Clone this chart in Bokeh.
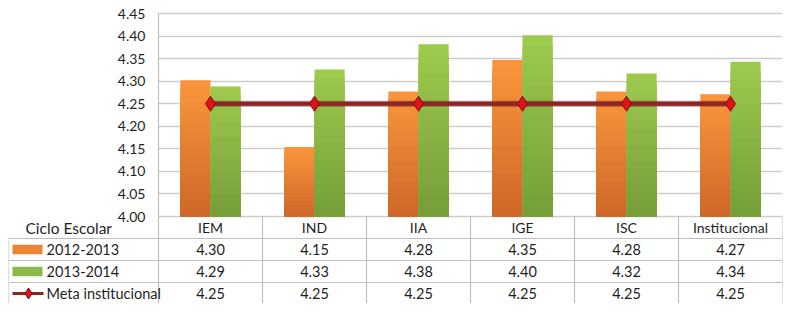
import numpy as np
from bokeh.plotting import figure
from bokeh.models import Range1d, LinearAxis, FixedTicker, NumeralTickFormatter, Grid
from bokeh.core.properties import value
from bokeh.embed import file_html
from bokeh.resources import INLINE

# ---------------- data ----------------
categories = ["IEM", "IND", "IIA", "IGE", "ISC", "Institucional"]
series_2012 = [4.302, 4.154, 4.277, 4.347, 4.277, 4.271]
series_2013 = [4.288, 4.326, 4.382, 4.402, 4.317, 4.343]
meta = [4.25, 4.25, 4.25, 4.25, 4.25, 4.25]
y_ticks = [4.00, 4.05, 4.10, 4.15, 4.20, 4.25, 4.30, 4.35, 4.40, 4.45]
series_names = ["2012-2013", "2013-2014", "Meta institucional"]
header_label = "Ciclo Escolar"

# ---------------- layout constants ----------------
W, H = 784, 303
BORDER_TOP = 3
FRAME_H = H - BORDER_TOP
PAD_PX = 10          # px between frame top and top tick
CHART_H = 203        # px for the value axis span
ROW_H = 22.0
BORDER_LEFT, BORDER_RIGHT = 8, 2
LEFT_PX = 150.0
COL_PX = 104.0
X0 = -LEFT_PX / COL_PX
FONT = "Lato"
TXT = "#1f1f1f"
LINE = "#BFBFBF"

y_lo, y_hi = y_ticks[0], y_ticks[-1]
upp = (y_hi - y_lo) / CHART_H  # units per px
y_end = y_hi + PAD_PX * upp
y_start = y_lo - (FRAME_H - CHART_H - PAD_PX) * upp
tbl_top = -(CHART_H + PAD_PX) / ROW_H
tbl_bottom = (FRAME_H - CHART_H - PAD_PX) / ROW_H

ncat = len(categories)
p = figure(width=W, height=H, output_backend="svg", toolbar_location=None,
           x_range=Range1d(X0, ncat), y_range=Range1d(y_start, y_end),
           x_axis_location=None, y_axis_location=None,
           min_border_left=BORDER_LEFT, min_border_right=BORDER_RIGHT,
           min_border_top=BORDER_TOP, min_border_bottom=0)
p.center = []
p.extra_y_ranges = {"tbl": Range1d(start=tbl_bottom, end=tbl_top)}
p.outline_line_color = None
p.background_fill_color = "white"
p.border_fill_color = "white"

# grid
grid = Grid(dimension=1, ticker=FixedTicker(ticks=y_ticks), grid_line_color="#CDCDCD",
            grid_line_width=1.5, bounds=(y_lo, y_hi))
need_mask = True
if "cross_bounds" in Grid.properties():
    grid.cross_bounds = (0, ncat)
    need_mask = False
p.add_layout(grid)
if need_mask:
    p.quad(left=[X0], right=[0], bottom=[y_lo - 0.01], top=[y_end], fill_color="white", line_color=None)

# y axis pinned at x=0
yaxis = LinearAxis(fixed_location=0, ticker=FixedTicker(ticks=y_ticks),
                   formatter=NumeralTickFormatter(format="0.00"), bounds=(y_lo, y_hi),
                   axis_line_color=LINE, axis_line_width=1.2,
                   major_tick_out=0, major_tick_in=0, minor_tick_out=0, minor_tick_in=0,
                   major_tick_line_color=None, minor_tick_line_color=None,
                   major_label_standoff=13, major_label_text_font=FONT,
                   major_label_text_font_size="14px", major_label_text_color=TXT)
p.add_layout(yaxis, "left")

# bars with vertical gradient
idx = np.arange(ncat) + 0.5
BW = 0.29
N = 18
def grad_bars(xs, vals, c_top, c_bot):
    c_top = np.array(c_top, float); c_bot = np.array(c_bot, float)
    vals = np.array(vals, float)
    for k in range(N):
        f = 1 - k / N
        t = k / (N - 1)
        c = c_top * (1 - t) + c_bot * t
        col = "#%02x%02x%02x" % tuple(int(round(v)) for v in c)
        p.vbar(x=xs, width=BW, bottom=y_lo, top=y_lo + (vals - y_lo) * f,
               fill_color=col, line_color=None)

grad_bars(idx - BW / 2, series_2012, (249, 148, 60), (208, 104, 40))
grad_bars(idx + BW / 2, series_2013, (157, 201, 77), (118, 158, 57))

# meta line
p.line(idx, meta, line_color="#5e1414", line_width=6, line_alpha=0.45)
p.line(idx, meta, line_color="#8f2424", line_width=4)
p.scatter(idx, meta, marker="diamond", size=15, fill_color="#e3101a", line_color="#7a0f0f", line_width=1)

# ---------------- table ----------------
p.segment(x0=[X0] * 3, x1=[ncat] * 3, y0=[1, 2, 3], y1=[1, 2, 3], y_range_name="tbl",
          line_color=LINE, line_width=1.2)
p.segment(x0=[X0], x1=[X0], y0=[1], y1=[5], y_range_name="tbl", line_color=LINE, line_width=1.2)
vx = list(range(ncat + 1))
p.segment(x0=vx, x1=vx, y0=[0] * len(vx), y1=[5] * len(vx), y_range_name="tbl",
          line_color=LINE, line_width=1.2)

p.text(x=idx, y=[0.5] * ncat, text=categories, y_range_name="tbl", text_align="center",
       text_baseline="middle", text_font=value(FONT), text_font_size="14px", text_color=TXT)
p.text(x=[X0 + 17 / COL_PX], y=[0.5], text=[header_label], y_range_name="tbl", text_align="left",
       text_baseline="middle", text_font=value(FONT), text_font_size="15.5px", text_color=TXT)

rows = [series_2012, series_2013, meta]
for r, vals in enumerate(rows):
    p.text(x=idx, y=[r + 1.5] * ncat, text=["%.2f" % v for v in vals], y_range_name="tbl",
           text_align="center", text_baseline="middle", text_font=value(FONT),
           text_font_size="14.5px", text_color=TXT)

p.text(x=[X0 + 38 / COL_PX] * 3, y=[1.5, 2.5, 3.5], text=series_names, y_range_name="tbl",
       text_align="left", text_baseline="middle", text_font=value(FONT), text_font_size="14.5px",
       text_color=TXT)
sw_l, sw_r = X0 + 4 / COL_PX, X0 + 34 / COL_PX
p.quad(left=[sw_l], right=[sw_r], top=[1.5 - 0.22], bottom=[1.5 + 0.22], y_range_name="tbl",
       fill_color="#ee8433", line_color=None)
p.quad(left=[sw_l], right=[sw_r], top=[2.5 - 0.22], bottom=[2.5 + 0.22], y_range_name="tbl",
       fill_color="#8cb947", line_color=None)
p.line([sw_l, X0 + 35 / COL_PX], [3.5, 3.5], y_range_name="tbl", line_color="#8f2424", line_width=3)
p.scatter([X0 + 20 / COL_PX], [3.5], y_range_name="tbl", marker="diamond", size=11,
          fill_color="#e3101a", line_color="#7a0f0f", line_width=1)

open("out.html", "w").write(file_html(p, INLINE))
